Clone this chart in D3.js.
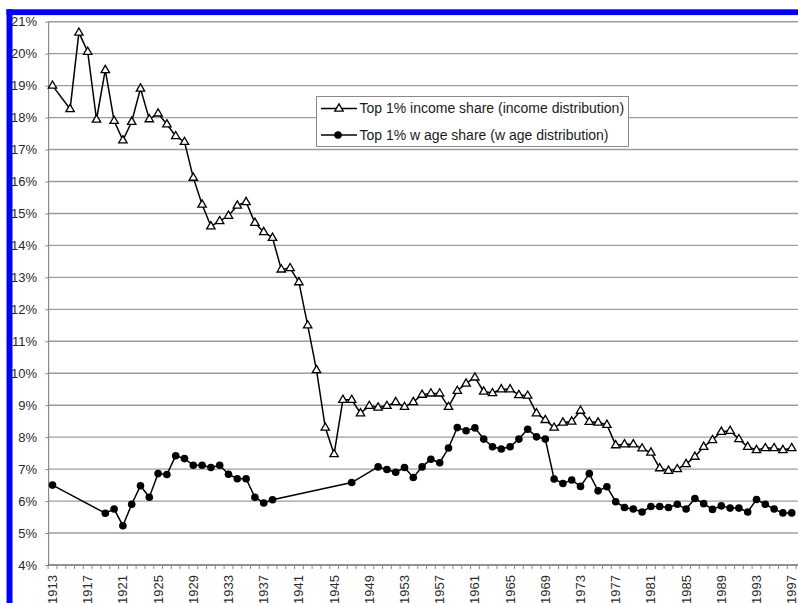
<!DOCTYPE html>
<html lang="en">
<head>
<meta charset="utf-8">
<title>Top 1% income and wage shares</title>
<style>
body { margin: 0; background: #fff; }
svg { display: block; }
.axis text { font: 13px "Liberation Sans", Arial, sans-serif; fill: #2a2a2a; }
.legend text { font: 14px "Liberation Sans", Arial, sans-serif; fill: #1a1a1a; }
</style>
<script src="https://cdn.jsdelivr.net/npm/d3@7"></script>
</head>
<body>
<svg width="798" height="603"></svg>
<script>

// data (percent)
const incomeYears = [1913, 1915, 1916, 1917, 1918, 1919, 1920, 1921, 1922, 1923, 1924, 1925,
  1926, 1927, 1928, 1929, 1930, 1931, 1932, 1933, 1934, 1935, 1936, 1937, 1938, 1939,
  1940, 1941, 1942, 1943, 1944, 1945, 1946, 1947, 1948, 1949, 1950, 1951, 1952, 1953,
  1954, 1955, 1956, 1957, 1958, 1959, 1960, 1961, 1962, 1963, 1964, 1965, 1966, 1967,
  1968, 1969, 1970, 1971, 1972, 1973, 1974, 1975, 1976, 1977, 1978, 1979, 1980, 1981,
  1982, 1983, 1984, 1985, 1986, 1987, 1988, 1989, 1990, 1991, 1992, 1993, 1994, 1995,
  1996, 1997];
const incomeShare = [19.0, 18.27, 20.66, 20.06, 17.94, 19.49, 17.9, 17.29, 17.87, 18.91, 17.95, 18.13,
  17.79, 17.42, 17.24, 16.12, 15.28, 14.6, 14.76, 14.93, 15.25, 15.36, 14.71, 14.42, 14.24, 13.25,
  13.29, 12.85, 11.5, 10.1, 8.3, 7.47, 9.17, 9.17, 8.75, 8.98, 8.93, 8.98, 9.1, 8.95,
  9.1, 9.33, 9.37, 9.37, 8.95, 9.45, 9.68, 9.87, 9.43, 9.38, 9.5, 9.5, 9.32, 9.3,
  8.75, 8.54, 8.3, 8.46, 8.49, 8.83, 8.48, 8.46, 8.39, 7.75, 7.78, 7.78, 7.65, 7.52,
  7.03, 6.95, 7.0, 7.16, 7.39, 7.7, 7.91, 8.17, 8.2, 7.94, 7.7, 7.6, 7.66, 7.66,
  7.6, 7.66];

const wageYears = [1913, 1919, 1920, 1921, 1922, 1923, 1924, 1925, 1926, 1927, 1928, 1929,
  1930, 1931, 1932, 1933, 1934, 1935, 1936, 1937, 1938, 1947, 1950, 1951, 1952, 1953,
  1954, 1955, 1956, 1957, 1958, 1959, 1960, 1961, 1962, 1963, 1964, 1965, 1966, 1967,
  1968, 1969, 1970, 1971, 1972, 1973, 1974, 1975, 1976, 1977, 1978, 1979, 1980, 1981,
  1982, 1983, 1984, 1985, 1986, 1987, 1988, 1989, 1990, 1991, 1992, 1993, 1994, 1995,
  1996, 1997];
const wageShare = [6.5, 5.62, 5.75, 5.23, 5.9, 6.48, 6.12, 6.86, 6.83, 7.42, 7.33, 7.12,
  7.12, 7.05, 7.12, 6.84, 6.7, 6.7, 6.12, 5.94, 6.04, 6.58, 7.07, 6.99, 6.9, 7.05,
  6.74, 7.07, 7.31, 7.2, 7.66, 8.3, 8.2, 8.29, 7.94, 7.7, 7.63, 7.7, 7.94, 8.25,
  8.01, 7.94, 6.69, 6.55, 6.66, 6.46, 6.86, 6.32, 6.45, 5.98, 5.8, 5.75, 5.66, 5.83,
  5.83, 5.8, 5.9, 5.75, 6.08, 5.92, 5.74, 5.85, 5.78, 5.78, 5.66, 6.05, 5.9, 5.75,
  5.63, 5.63];

const allYears = d3.range(1913, 1999);
const yTicks = d3.range(4, 22);
const xLabels = d3.range(1913, 1998, 4);
const legendLabels = ['Top 1% income share (income distribution)',
                      'Top 1% w age share (w age distribution)'];

var svg = d3.select('svg'),
    margin = {top: 21.7, left: 48.1},
    height = 565 - margin.top,
    step = 8.8;

// frame strips
svg.append('rect').attr('x', 6.5).attr('y', 9.3).attr('width', 800).attr('height', 5.8).attr('fill', '#0000f4');
svg.append('rect').attr('x', 6.5).attr('y', 9.3).attr('width', 6).attr('height', 600).attr('fill', '#0000f4');

let x = d3.scaleBand()
    .domain(allYears)
    .range([margin.left, margin.left + allYears.length * step])
    .padding(0);
let y = d3.scaleLinear().domain([4, 21]).range([margin.top + height, margin.top]);
let xc = d => x(d) + x.bandwidth() / 2;
let right = margin.left + allYears.length * step;

// gridlines
svg.append('g')
  .selectAll('line')
  .data(yTicks.slice(1))
  .enter().append('line')
    .attr('x1', margin.left)
    .attr('x2', right)
    .attr('y1', d => y(d))
    .attr('y2', d => y(d))
    .attr('stroke', '#9c9c9c')
    .attr('stroke-width', 1.4);

// y axis
let yAxis = svg.append('g')
    .attr('class', 'axis')
    .attr('transform', 'translate(' + margin.left + ',0)')
    .call(d3.axisLeft(y).tickValues(yTicks).tickFormat(d => d + '%').tickSize(3).tickPadding(8).tickSizeOuter(0));
yAxis.select('.domain').attr('stroke', '#8a8a8a').attr('stroke-width', 1.2);
yAxis.selectAll('.tick line').attr('stroke', '#8a8a8a');

// x axis: one tick per year between categories, label every 4 years
let xAxis = svg.append('g')
    .attr('class', 'axis')
    .attr('transform', 'translate(0,' + y(4) + ')');
xAxis.append('line')
    .attr('x1', margin.left).attr('x2', right)
    .attr('stroke', '#6e6e6e').attr('stroke-width', 1.4);
xAxis.selectAll('line.yt')
  .data(allYears)
  .enter().append('line')
    .attr('class', 'yt')
    .attr('x1', d => x(d)).attr('x2', d => x(d))
    .attr('y1', 0).attr('y2', 4)
    .attr('stroke', '#8a8a8a');
xAxis.selectAll('text')
  .data(xLabels)
  .enter().append('text')
    .attr('transform', d => 'translate(' + (xc(d) + 4.5) + ',10) rotate(-90)')
    .attr('text-anchor', 'end')
    .text(d => d);

let line = d3.line().x(d => xc(d.year)).y(d => y(d.v));
let income = incomeYears.map((yr, i) => ({year: yr, v: incomeShare[i]}));
let wage = wageYears.map((yr, i) => ({year: yr, v: wageShare[i]}));

const tri = 'M0,-4.6L4.2,2.6L-4.2,2.6Z';

svg.append('path').datum(income)
    .attr('d', line).attr('fill', 'none').attr('stroke', '#000').attr('stroke-width', 1.5);
svg.append('path').datum(wage)
    .attr('d', line).attr('fill', 'none').attr('stroke', '#000').attr('stroke-width', 1.5);

svg.append('g')
  .selectAll('path')
  .data(income)
  .enter().append('path')
    .attr('d', tri)
    .attr('transform', d => 'translate(' + xc(d.year) + ',' + y(d.v) + ')')
    .attr('fill', '#fff').attr('stroke', '#000').attr('stroke-width', 1.3);

svg.append('g')
  .selectAll('circle')
  .data(wage)
  .enter().append('circle')
    .attr('cx', d => xc(d.year))
    .attr('cy', d => y(d.v))
    .attr('r', 3.8)
    .attr('fill', '#000');

// legend
let legend = svg.append('g').attr('class', 'legend');
legend.append('rect')
    .attr('x', 316.5).attr('y', 96.5).attr('width', 312).attr('height', 50)
    .attr('fill', '#fff').attr('stroke', '#8a8a8a');

let item = legend.selectAll('g')
  .data(legendLabels)
  .enter().append('g')
    .attr('transform', (d, i) => 'translate(321,' + (108.5 + i * 26.5) + ')');
item.append('line').attr('x1', 0).attr('x2', 36).attr('stroke', '#000').attr('stroke-width', 1.5);
item.filter((d, i) => i === 0).append('path')
    .attr('d', tri).attr('transform', 'translate(18,0)')
    .attr('fill', '#fff').attr('stroke', '#000').attr('stroke-width', 1.3);
item.filter((d, i) => i === 1).append('circle')
    .attr('cx', 17).attr('r', 3.8).attr('fill', '#000');
item.append('text')
    .attr('x', 38.5)
    .attr('dy', '0.35em')
    .text(d => d);

</script>
</body>
</html>
